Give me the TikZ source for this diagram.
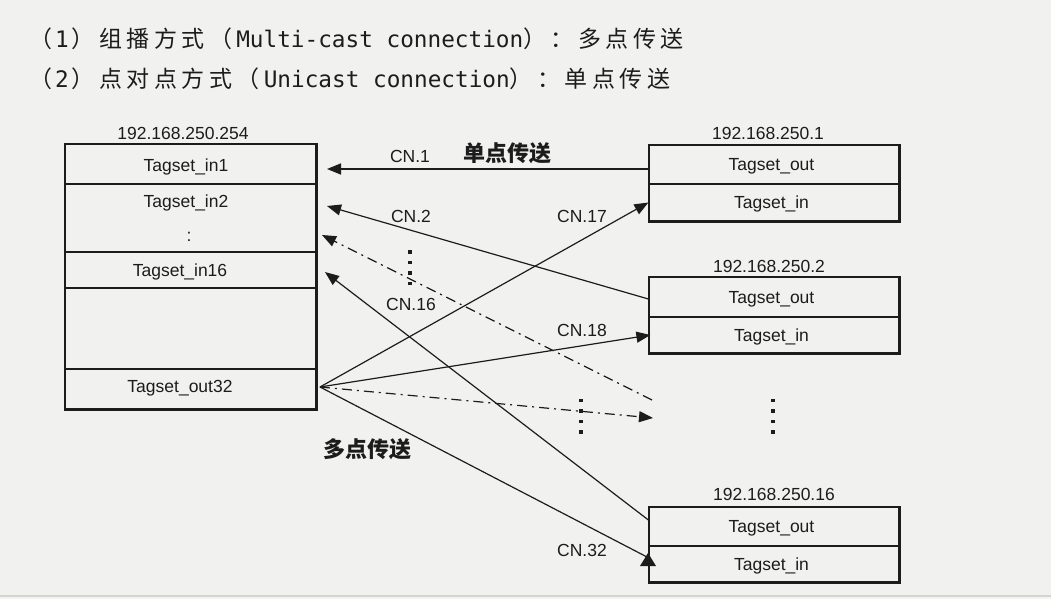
\documentclass[tikz,border=0pt]{standalone}
\usepackage{fontspec}
\setmainfont{Liberation Sans}
\newfontfamily\cjk{Noto Sans CJK SC}
\newfontfamily\cjktop[LetterSpace=19.5]{Noto Sans CJK SC}
\newfontfamily\monotop{DejaVu Sans Mono}
\usetikzlibrary{arrows.meta}
\definecolor{bg}{HTML}{F1F1EF}
\definecolor{ink}{HTML}{1C1C1C}
\definecolor{sep}{HTML}{D4D4D2}
\definecolor{bgb}{HTML}{F4F4F0}
\newcommand{\mono}[1]{{\monotop\fontsize{22.7}{24}\selectfont #1}}
\tikzset{
  lbl/.style={font=\fontsize{17.5}{20}\selectfont, text=ink, inner sep=0pt, text height=12.5pt, text depth=0pt},
  cell/.style={draw=ink, line width=1.2pt, inner sep=0pt, font=\fontsize{17.5}{20}\selectfont, text=ink, text height=12.5pt, text depth=0pt},
  lcell/.style={cell, minimum width=251pt},
  rcell/.style={cell, minimum width=250pt},
  frame/.style={draw=ink, line width=1.8pt},
  conn/.style={draw=ink, line width=1.2pt},
  tip/.style={-{Triangle[length=14pt,width=11pt]}},
  dashdot/.style={dash pattern=on 10pt off 5pt on 2pt off 5pt},
  cjkb/.style={font=\cjk\bfseries\fontsize{22}{24}\selectfont, text=ink, inner sep=0pt},
  head/.style={anchor=base west, inner sep=0pt, text=ink, font=\cjktop\fontsize{23}{25}\selectfont},
}
\begin{document}
\begin{tikzpicture}[x=1pt,y=-1pt]
% background
\fill[bg] (0,0) rectangle (1051,599);
\fill[sep] (0,594.5) rectangle (1051,596.5);
\fill[bgb] (0,596.5) rectangle (1051,599);
\useasboundingbox (0,0) rectangle (1051,599);

% heading
\node[head] (h1) at (29,48) {（\kern3pt\mono{1}\kern3pt）组播方式（\kern4pt\mono{Multi-cast connection}）：多点传送};
\node[head] (h2) at (29,88) {（\kern3pt\mono{2}\kern3pt）点对点方式（\kern4pt\mono{Unicast connection}）：单点传送};

% left box
\node[lcell, minimum height=40pt] (L1) at (190.5,164) {};
\node[lcell, minimum height=68pt] (L2) at (190.5,218) {};
\node[lcell, minimum height=36pt] (L3) at (190.5,270) {};
\node[lcell, minimum height=81pt] (L4) at (190.5,328.5) {};
\node[lcell, minimum height=40pt] (L5) at (190.5,389) {};
\draw[frame] (L1.north west) rectangle (L5.south east);
\node[lbl] (lip) at (183,133) {192.168.250.254};
\node[lbl] (lt1) at (186,165) {Tagset\_in1};
\node[lbl] (lt2) at (186,201.5) {Tagset\_in2};
\node[lbl] (ltd) at (189,235) {:};
\node[lbl] (lt3) at (180,270) {Tagset\_in16};
\node[lbl] (lt5) at (180,386.5) {Tagset\_out32};

% right boxes
\node[rcell, minimum height=39pt] (R1out) at (774,164.5) {\kern-5pt Tagset\_out};
\node[rcell, minimum height=37pt] (R1in) at (774,202.5) {\kern-5pt Tagset\_in};
\draw[frame] (R1out.north west) rectangle (R1in.south east);
\node[lbl] (r1ip) at (768,133) {192.168.250.1};

\node[rcell, minimum height=40pt] (R2out) at (774,297) {\kern-5pt Tagset\_out};
\node[rcell, minimum height=36pt] (R2in) at (774,335) {\kern-5pt Tagset\_in};
\draw[frame] (R2out.north west) rectangle (R2in.south east);
\node[lbl] (r2ip) at (769,266) {192.168.250.2};

\node[rcell, minimum height=39pt] (R3out) at (774,526.5) {\kern-5pt Tagset\_out};
\node[rcell, minimum height=36pt] (R3in) at (774,564) {\kern-5pt Tagset\_in};
\draw[frame] (R3out.north west) rectangle (R3in.south east);
\node[lbl] (r3ip) at (774,494) {192.168.250.16};

% connector end points
\coordinate (o) at (320,387);
\coordinate (t1) at (327,169);
\coordinate (t2) at (327,206);
\coordinate (d1) at (652,400);
\coordinate (t3) at (322,235);
\coordinate (t4) at (325,272);
\coordinate (t7) at (653,418);
\coordinate (t8) at (647,557);

% unicast (into left box)
\draw[conn, tip, line width=1.6pt] ([yshift=-4.5pt]R1out.west) -- (t1);
\draw[conn, tip] ([yshift=-2pt]R2out.west) -- (t2);
\draw[conn, tip, dashdot] (d1) -- (t3);
\draw[conn, tip] ([yshift=6.5pt]R3out.west) -- (t4);

% multicast (from Tagset_out32)
\draw[conn, tip] (o) -- (R1in.west);
\draw[conn, tip] (o) -- ([xshift=2pt]R2in.west);
\draw[conn, tip, dashdot] (o) -- (t7);
\draw[conn] (o) -- (t8);
\fill[ink] (640,566) -- (656,566) -- (648,553) -- cycle;

% labels
\node[lbl] (c1) at (410,156.5) {CN.1};
\node[cjkb] (uni) at (507,153) {单点传送};
\node[lbl] (c2) at (411,216.5) {CN.2};
\node[lbl] (c17) at (582,216.5) {CN.17};
\node[lbl] (c16) at (411,304) {CN.16};
\node[lbl] (c18) at (582,330.5) {CN.18};
\node[cjkb] (multi) at (367,449) {多点传送};
\node[lbl] (c32) at (582,550) {CN.32};

% vertical ellipses
\foreach \y in {252,262.5,273,283.5} \fill[ink] (408.3,\y-1.7) rectangle ++(3.4,3.4);
\foreach \y in {400.5,411,421.5,432} \fill[ink] (579.3,\y-1.7) rectangle ++(3.4,3.4);
\foreach \y in {400.5,411,421.5,432} \fill[ink] (771.3,\y-1.7) rectangle ++(3.4,3.4);
\end{tikzpicture}
\end{document}
